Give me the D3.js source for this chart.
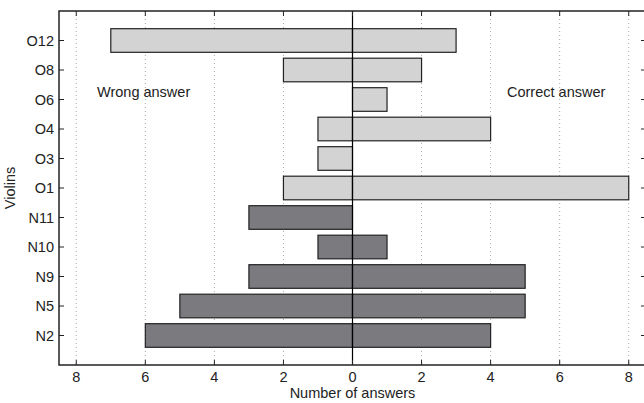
<!DOCTYPE html>
<html>
<head>
<meta charset="utf-8">
<script src="https://cdn.jsdelivr.net/npm/d3@7"></script>
<style>
  body { margin: 0; background: #fff; }
  svg { display: block; font-family: "Liberation Sans", Arial, sans-serif; }
</style>
</head>
<body>
<svg id="chart" width="644" height="403"></svg>
<script>
// violins, bottom to top
var violins = ["N2", "N5", "N9", "N10", "N11", "O1", "O3", "O4", "O6", "O8", "O12"];
var wrong   = [6, 5, 3, 1, 3, 2, 1, 1, 0, 2, 7];
var correct = [4, 5, 5, 1, 0, 8, 0, 4, 1, 2, 3];
var xTicks  = [-8, -6, -4, -2, 0, 2, 4, 6, 8];

var svg = d3.select("#chart");
// note: "top" is taken by window.top, so the plot box gets its own names
var pLeft = 59, pRight = 646, pTop = 11, pBottom = 365;
var fs = 14.5;

var x = d3.scaleLinear().domain([-8.5, 8.5]).range([pLeft, pRight]);
var y = d3.scaleLinear().domain([0, violins.length + 1]).range([pBottom, pTop]);
var step = y(0) - y(1);
var barH = step * 0.8;

var rows = violins.map(function(v, i) {
  return { name: v, pos: i + 1, wrong: wrong[i], correct: correct[i], old: v[0] === "O" };
});

// dotted grid
svg.append("g").selectAll("line")
  .data(xTicks.filter(function(d) { return d !== 0; }))
  .enter().append("line")
  .attr("x1", d => x(d)).attr("x2", d => x(d))
  .attr("y1", pTop).attr("y2", pBottom)
  .attr("stroke", "#aaa").attr("stroke-width", 1)
  .attr("stroke-dasharray", "1,3");

// bars
var fill = function(d) { return d.old ? "#d3d3d3" : "#7b7b7f"; };
var bars = svg.append("g");
bars.selectAll("rect.w").data(rows.filter(d => d.wrong > 0)).enter().append("rect")
  .attr("x", d => x(-d.wrong)).attr("width", d => x(0) - x(-d.wrong))
  .attr("y", d => y(d.pos) - barH / 2).attr("height", barH)
  .attr("fill", fill).attr("stroke", "#222").attr("stroke-width", 1.2);
bars.selectAll("rect.c").data(rows.filter(d => d.correct > 0)).enter().append("rect")
  .attr("x", x(0)).attr("width", d => x(d.correct) - x(0))
  .attr("y", d => y(d.pos) - barH / 2).attr("height", barH)
  .attr("fill", fill).attr("stroke", "#222").attr("stroke-width", 1.2);

// zero line
svg.append("line")
  .attr("x1", x(0)).attr("x2", x(0)).attr("y1", pTop).attr("y2", pBottom)
  .attr("stroke", "#000").attr("stroke-width", 1.2);

// frame
svg.append("rect")
  .attr("x", pLeft).attr("y", pTop).attr("width", pRight - pLeft).attr("height", pBottom - pTop)
  .attr("fill", "none").attr("stroke", "#222").attr("stroke-width", 1.5);

// x ticks (inward, top and bottom)
var tk = 5;
var xt = svg.append("g").attr("stroke", "#222");
xTicks.forEach(function(d) {
  xt.append("line").attr("x1", x(d)).attr("x2", x(d)).attr("y1", pBottom).attr("y2", pBottom - tk);
  xt.append("line").attr("x1", x(d)).attr("x2", x(d)).attr("y1", pTop).attr("y2", pTop + tk);
});
svg.append("g").selectAll("text").data(xTicks).enter().append("text")
  .attr("x", d => x(d)).attr("y", 382)
  .attr("text-anchor", "middle").attr("font-size", fs).attr("fill", "#222")
  .text(d => Math.abs(d));

// y ticks (inward, left and right)
var yt = svg.append("g").attr("stroke", "#222");
rows.forEach(function(d) {
  yt.append("line").attr("x1", pLeft).attr("x2", pLeft + tk).attr("y1", y(d.pos)).attr("y2", y(d.pos));
  yt.append("line").attr("x1", pRight).attr("x2", pRight - tk).attr("y1", y(d.pos)).attr("y2", y(d.pos));
});
svg.append("g").selectAll("text").data(rows).enter().append("text")
  .attr("x", 54).attr("y", d => y(d.pos) + 5)
  .attr("text-anchor", "end").attr("font-size", fs).attr("fill", "#222")
  .text(d => d.name);

// labels
svg.append("text").attr("x", x(0)).attr("y", 398).attr("text-anchor", "middle")
  .attr("font-size", fs).attr("fill", "#222").text("Number of answers");
svg.append("text").attr("transform", "translate(15," + ((pTop + pBottom) / 2) + ") rotate(-90)")
  .attr("text-anchor", "middle").attr("font-size", fs).attr("fill", "#222").text("Violins");
svg.append("text").attr("x", 97).attr("y", 97).attr("font-size", fs).attr("fill", "#222").text("Wrong answer");
svg.append("text").attr("x", 507).attr("y", 97).attr("font-size", fs).attr("fill", "#222").text("Correct answer");
</script>
</body>
</html>
